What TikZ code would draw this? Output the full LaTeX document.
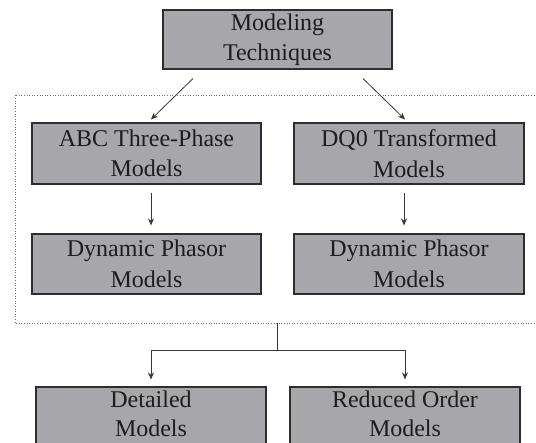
\documentclass[tikz,border=0pt]{standalone}
\usepackage{fontspec}
\setmainfont{Liberation Serif}
\usetikzlibrary{calc,arrows.meta}
\definecolor{boxfill}{RGB}{167,167,171}
\definecolor{boxline}{RGB}{45,45,45}
\definecolor{txt}{RGB}{30,28,29}
\definecolor{arrline}{RGB}{55,55,55}
\tikzset{
  mbox/.style={draw=boxline, fill=boxfill, line width=1.1pt, inner sep=0pt,
    minimum width=230pt, minimum height=60pt, align=center, text=txt,
    font=\fontsize{24}{30.5}\selectfont},
  mtext/.style={inner sep=0pt, align=center, text=txt,
    font=\fontsize{24}{29.5}\selectfont},
  arr/.style={draw=arrline, line width=0.8pt, -{Stealth[length=7pt,width=6pt]}},
  plainline/.style={draw=arrline, line width=0.8pt},
  frame/.style={draw=gray!85!black, line width=0.8pt, dash pattern=on 1pt off 1.6pt}
}
\begin{document}
\begin{tikzpicture}[x=1pt,y=-1pt]
\clip (0,0) rectangle (536,443);
\fill[white] (0,0) rectangle (536,443);
% dotted frame
\draw[frame] (545,95) -- (15,95) -- (15,323) -- (545,323);
\coordinate (fork) at (277,323);
\coordinate (split) at (277,350);
% boxes
\node[mbox, minimum width=229pt, minimum height=59pt] (top) at (277.5,39.5) {Modeling\\Techniques};
\node[mbox, minimum width=229pt, minimum height=61pt] (abc) at (146.5,153.5) {ABC Three-Phase\\Models};
\node[mbox, minimum height=61pt] (dq0) at (409,153.5) {DQ0 Transformed\\Models};
\node[mbox, minimum width=229pt] (dpl) at (146.5,264) {Dynamic Phasor\\Models};
\node[mbox] (dpr) at (409,264) {Dynamic Phasor\\Models};
\node[mbox, minimum height=62pt] (det) at (151,418) {};
\node[mbox, minimum height=62pt] (red) at (405,418) {};
\node[mtext, anchor=south] (detT) at (151,437) {Detailed\\Models};
\node[mtext, anchor=south] (redT) at (405,437) {Reduced Order\\Models};
% connectors
\draw[arr] ($(top.south)+(-84.5,9)$) -- ($(abc.north)+(4.5,-3)$);
\draw[arr] ($(top.south)+(85.5,9)$) -- ($(dq0.north)+(-4,-3)$);
\draw[arr] ($(abc.south)+(4.5,8)$) -- ($(dpl.north)+(4.5,-8)$);
\draw[arr] ($(dq0.south)+(-5,8)$) -- ($(dpr.north)+(-5,-8)$);
\draw[plainline] (fork) -- (split);
\draw[arr] (split) -| ($(det.north)+(0,-7)$);
\draw[arr] (split) -| ($(red.north)+(0,-7)$);
\end{tikzpicture}
\end{document}
